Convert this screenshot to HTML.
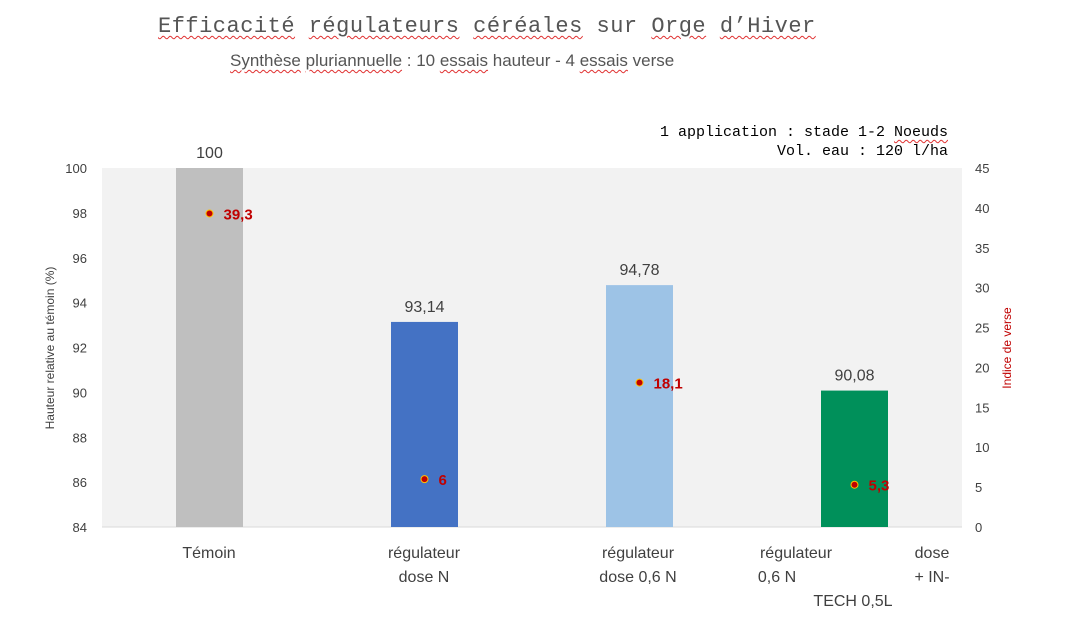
<!DOCTYPE html>
<html><head><meta charset="utf-8"><style>
body{margin:0;background:#fff;width:1068px;height:636px;overflow:hidden;font-family:"Liberation Sans",sans-serif}
.w{text-decoration:underline wavy #e03030;text-decoration-thickness:1px;text-underline-offset:3px}
#t1{position:absolute;left:158px;top:14px;font:22px "Liberation Mono",monospace;color:#555;letter-spacing:0.5px}
#t2{position:absolute;left:230px;top:51px;font:17px "Liberation Sans",sans-serif;color:#555}
#t3{position:absolute;right:120px;top:123px;font:15px "Liberation Mono",monospace;color:#000;text-align:right;line-height:19px}
</style></head><body>
<div id="t1"><span class="w">Efficacité</span> <span class="w">régulateurs</span> <span class="w">céréales</span> sur <span class="w">Orge</span> <span class="w">d’Hiver</span></div>
<div id="t2"><span class="w">Synthèse</span> <span class="w">pluriannuelle</span> : 10 <span class="w">essais</span> hauteur - 4 <span class="w">essais</span> verse</div>
<div id="t3">1 application : stade  1-2 <span class="w">Noeuds</span><br>Vol. eau : 120 l/ha</div>
<svg id="c" width="1068" height="636" style="position:absolute;left:0;top:0"></svg>
<script>
const categories=["Témoin","régulateur dose N","régulateur dose 0,6 N","régulateur 0,6 N + IN-TECH 0,5L"];
const heights=[100,93.14,94.78,90.08];
const heightLabels=["100","93,14","94,78","90,08"];
const verse=[39.3,6,18.1,5.3];
const verseLabels=["39,3","6","18,1","5,3"];
const leftTicks=[84,86,88,90,92,94,96,98,100];
const rightTicks=[0,5,10,15,20,25,30,35,40,45];
const colors=["#bfbfbf","#4472c4","#9dc3e6","#00905a"];
const svg=document.getElementById('c'),NS="http://www.w3.org/2000/svg";
const X0=102,X1=962,Y0=527,Y1=168;
const yL=v=>Y0-(v-84)/16*(Y0-Y1), yR=v=>Y0-v/45*(Y0-Y1);
const bw=(X1-X0)/categories.length, cx=i=>X0+bw*(i+0.5);
function el(t,a,txt){const e=document.createElementNS(NS,t);for(const k in a)e.setAttribute(k,a[k]);if(txt!=null)e.textContent=txt;svg.appendChild(e);return e;}
let e=el('rect',{x:X0,y:Y1,width:X1-X0,height:Y0-Y1,fill:'#f2f2f2'});

e=el('line',{x1:X0,x2:X1,y1:Y0,y2:Y0,stroke:'#d9d9d9'});

leftTicks.forEach(v=>{const t=el('text',{x:87,y:yL(v)+5,'text-anchor':'end','font-size':13,fill:'#404040'},v);
});
rightTicks.forEach(v=>{const t=el('text',{x:975,y:yR(v)+5,'font-size':13,fill:'#404040'},v);
});
e=el('text',{transform:'translate(54,348) rotate(-90)','text-anchor':'middle','font-size':12,fill:'#404040'},'Hauteur relative au témoin (%)');

e=el('text',{transform:'translate(1011,348) rotate(-90)','text-anchor':'middle','font-size':12,fill:'#c00000'},'Indice de verse');

heights.forEach((v,i)=>{const b=el('rect',{x:cx(i)-33.5,y:yL(v),width:67,height:Y0-yL(v),fill:colors[i]});

const t=el('text',{x:cx(i),y:yL(v)-10,'text-anchor':'middle','font-size':16,fill:'#404040'},heightLabels[i]);
});
verse.forEach((v,i)=>{const p=el('circle',{cx:cx(i),cy:yR(v),r:3.5,fill:'#c00000',stroke:'#ffc000','stroke-width':1});

const t=el('text',{x:cx(i)+14,y:yR(v)+6,'font-size':15,'font-weight':'bold',fill:'#c00000'},verseLabels[i]);
});
const catLines=[[["Témoin",209]],[["régulateur",424],["dose N",424]],[["régulateur",638],["dose  0,6 N",638]]];
catLines.forEach(ls=>ls.forEach((l,j)=>{const t=el('text',{x:l[1],y:558+j*24,'text-anchor':'middle','font-size':16,fill:'#404040','xml:space':'preserve'},l[0]);
}));
[["régulateur",796,558],["dose",932,558],["0,6 N",777,582],["+ IN-",932,582],["TECH 0,5L",853,606]].forEach(l=>{const t=el('text',{x:l[1],y:l[2],'text-anchor':'middle','font-size':16,fill:'#404040'},l[0]);
});
</script>
</body></html>
